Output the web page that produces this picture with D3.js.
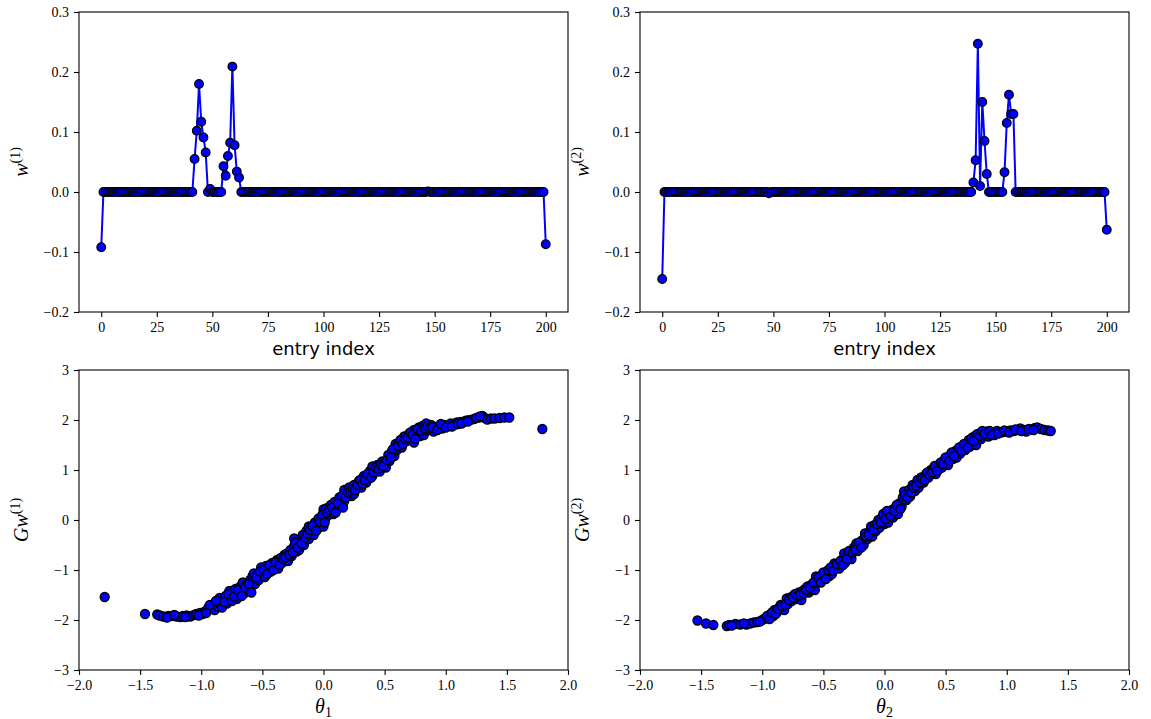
<!DOCTYPE html>
<html><head><meta charset="utf-8">
<script src="https://cdn.jsdelivr.net/npm/d3@7"></script>
<style>body{margin:0;background:#fff}svg{display:block}</style>
</head><body>
<svg id="chart" width="1151" height="719"></svg>
<script>
// ---------------- data ----------------
const w1 = [
-0.092,0,0,0,0,0,0,0,0,0,
0,0,0,0,0,0,0,0,0,0,
0,0,0,0,0,0,0,0,0,0,
0,0,0,0,0,0,0,0,0,0,
0,0,0.055,0.102,0.180,0.117,0.091,0.066,0,0.005,
0,0,0,0,0,0.043,0.027,0.060,0.082,0.209,
0.078,0.034,0.024,0,0,0,0,0,0,0,
0,0,0,0,0,0,0,0,0,0,
0,0,0,0,0,0,0,0,0,0,
0,0,0,0,0,0,0,0,0,0,
0,0,0,0,0,0,0,0,0,0,
0,0,0,0,0,0,0,0,0,0,
0,0,0,0,0,0,0,0,0,0,
0,0,0,0,0,0,0,0,0,0,
0,0,0,0,0,0,0,0.001,0,0,
0,0,0,0,0,0,0,0,0,0,
0,0,0,0,0,0,0,0,0,0,
0,0,0,0,0,0,0,0,0,0,
0,0,0,0,0,0,0,0,0,0,
0,0,0,0,0,0,0,0,0,0,
-0.087];

const w2 = [
-0.145,0,0,0,0,0,0,0,0,0,
0,0,0,0,0,0,0,0,0,0,
0,0,0,0,0,0,0,0,0,0,
0,0,0,0,0,0,0,0,0,0,
0,0,0,0,0,0,0,0,-0.002,0,
0,0,0,0,0,0,0,0,0,0,
0,0,0,0,0,0,0,0,0,0,
0,0,0,0,0,0,0,0,0,0,
0,0,0,0,0,0,0,0,0,0,
0,0,0,0,0,0,0,0,0,0,
0,0,0,0,0,0,0,0,0,0,
0,0,0,0,0,0,0,0,0,0,
0,0,0,0,0,0,0,0,0,0,
0,0,0,0,0,0,0,0,0,0,
0.016,0.053,0.247,0.010,0.150,0.085,0.030,0,0,0,
0,0,0,0,0.033,0.115,0.162,0.130,0.130,0,
0,0,0,0,0,0,0,0,0,0,
0,0,0,0,0,0,0,0,0,0,
0,0,0,0,0,0,0,0,0,0,
0,0,0,0,0,0,0,0,0,0,
-0.063];

// [theta_1, Gw^(1)]
const scatter1 = [
[-1.79,-1.54],[-1.46,-1.88],[-1.36,-1.89],[-1.34,-1.91],[-1.31,-1.93],[-1.27,-1.92],[-1.24,-1.92],[-1.20,-1.93],
[-1.17,-1.94],[-1.15,-1.92],[-1.12,-1.91],[-1.09,-1.93],[-1.06,-1.90],[-1.04,-1.88],[-1.01,-1.86],[-0.99,-1.88],
[-0.97,-1.83],[-0.95,-1.80],[-0.94,-1.75],[-0.92,-1.78],[-0.90,-1.72],[-0.89,-1.80],[-0.87,-1.66],[-0.86,-1.74],
[-0.85,-1.56],[-0.84,-1.70],[-0.82,-1.60],[-0.80,-1.52],[-0.79,-1.67],[-0.77,-1.42],[-0.76,-1.55],[-0.74,-1.48],
[-0.72,-1.38],[-0.71,-1.58],[-0.69,-1.44],[-0.68,-1.33],[-0.66,-1.25],[-0.65,-1.47],[-0.63,-1.30],[-0.62,-1.40],
[-0.60,-1.20],[-0.60,-1.37],[-0.58,-1.12],[-0.57,-1.07],[-0.56,-1.28],[-0.54,-1.10],[-0.53,-1.20],[-0.51,-0.95],
[-0.50,-1.08],[-0.48,-1.14],[-0.47,-0.92],[-0.45,-1.00],[-0.43,-1.03],[-0.42,-0.86],[-0.40,-0.93],[-0.38,-0.80],
[-0.37,-0.97],[-0.35,-0.76],[-0.34,-0.86],[-0.32,-0.70],[-0.30,-0.67],[-0.29,-0.82],[-0.27,-0.60],[-0.26,-0.72],
[-0.24,-0.37],[-0.24,-0.52],[-0.22,-0.63],[-0.20,-0.60],[-0.19,-0.42],[-0.17,-0.30],[-0.16,-0.50],[-0.14,-0.22],
[-0.12,-0.13],[-0.12,-0.38],[-0.10,-0.25],[-0.08,-0.30],[-0.07,-0.05],[-0.05,-0.18],[-0.04,0.03],[-0.02,-0.10],
[0.00,0.21],[0.00,-0.13],[0.02,0.23],[0.02,0.05],[0.04,0.10],[0.06,0.30],[0.08,0.12],[0.09,0.36],
[0.11,0.22],[0.13,0.45],[0.14,0.30],[0.17,0.60],[0.17,0.38],[0.19,0.50],[0.21,0.65],[0.23,0.48],
[0.25,0.70],[0.25,0.52],[0.27,0.62],[0.29,0.78],[0.31,0.65],[0.33,0.88],[0.35,0.75],[0.37,0.83],
[0.38,0.98],[0.40,1.07],[0.40,0.88],[0.42,1.00],[0.44,1.10],[0.46,0.97],[0.48,1.17],[0.50,1.15],
[0.51,1.05],[0.53,1.30],[0.54,1.18],[0.56,1.38],[0.58,1.28],[0.59,1.52],[0.60,1.40],[0.62,1.55],
[0.64,1.45],[0.66,1.67],[0.68,1.58],[0.70,1.72],[0.72,1.65],[0.74,1.80],[0.74,1.55],[0.76,1.75],
[0.78,1.85],[0.79,1.68],[0.81,1.88],[0.82,1.70],[0.84,1.93],[0.86,1.80],[0.88,1.90],[0.90,1.77],
[0.92,1.86],[0.95,1.88],[0.97,1.83],[0.99,1.90],[1.02,1.88],[1.04,1.93],[1.07,1.90],[1.09,1.95],
[1.12,1.96],[1.15,1.97],[1.17,1.99],[1.20,2.00],[1.23,2.02],[1.27,2.05],[1.30,2.08],[1.32,2.04],
[1.34,2.01],[1.37,2.03],[1.40,2.03],[1.44,2.04],[1.48,2.05],[1.52,2.05],[1.79,1.82]
];
const scatter1b = [
[-1.28,-1.95],[-1.22,-1.90],[-1.13,-1.94],[-1.02,-1.91],[-0.96,-1.86],[-0.93,-1.70],[-0.88,-1.62],[-0.83,-1.75],
[-0.81,-1.64],[-0.78,-1.48],[-0.75,-1.62],[-0.73,-1.53],[-0.70,-1.40],[-0.67,-1.52],[-0.64,-1.35],[-0.61,-1.28],
[-0.59,-1.45],[-0.55,-1.15],[-0.52,-1.03],[-0.49,-1.00],[-0.46,-1.08],[-0.44,-0.90],[-0.41,-1.00],[-0.39,-0.85],
[-0.36,-0.90],[-0.33,-0.78],[-0.31,-0.75],[-0.28,-0.70],[-0.25,-0.65],[-0.23,-0.45],[-0.21,-0.55],[-0.18,-0.47],
[-0.15,-0.35],[-0.13,-0.28],[-0.11,-0.20],[-0.09,-0.12],[-0.06,-0.22],[-0.03,-0.03],[-0.01,0.10],[0.01,-0.05],
[0.03,0.15],[0.05,0.20],[0.07,0.25],[0.10,0.15],[0.12,0.33],[0.15,0.48],[0.16,0.25],[0.18,0.45],
[0.20,0.55],[0.22,0.58],[0.24,0.62],[0.26,0.60],[0.28,0.70],[0.30,0.80],[0.32,0.72],[0.34,0.80],
[0.36,0.92],[0.39,0.85],[0.41,0.95],[0.43,1.05],[0.45,1.02],[0.47,1.10],[0.49,1.08],[0.52,1.20],
[0.55,1.25],[0.57,1.42],[0.61,1.48],[0.63,1.60],[0.65,1.52],[0.67,1.62],[0.69,1.65],[0.71,1.75],
[0.73,1.70],[0.75,1.62],[0.77,1.82],[0.80,1.78],[0.83,1.83],[0.85,1.88],[0.87,1.84],[0.89,1.85],
[0.93,1.80],[0.96,1.92],[1.00,1.85],[1.05,1.87],[1.10,1.92],[1.13,1.93],[1.18,1.97],[1.25,2.04],[1.28,2.07]
];

// [theta_2, Gw^(2)]
const scatter2 = [
[-1.53,-2.01],[-1.46,-2.07],[-1.40,-2.10],[-1.29,-2.12],[-1.27,-2.10],[-1.22,-2.08],[-1.18,-2.09],[-1.13,-2.09],
[-1.10,-2.07],[-1.07,-2.05],[-1.04,-2.04],[-1.00,-2.00],[-0.98,-1.97],[-0.95,-1.95],[-0.93,-1.88],[-0.91,-1.92],
[-0.90,-1.80],[-0.88,-1.85],[-0.86,-1.75],[-0.85,-1.70],[-0.83,-1.78],[-0.82,-1.80],[-0.80,-1.57],[-0.79,-1.68],
[-0.77,-1.55],[-0.76,-1.62],[-0.74,-1.50],[-0.72,-1.58],[-0.70,-1.45],[-0.68,-1.60],[-0.67,-1.42],[-0.65,-1.38],
[-0.63,-1.33],[-0.62,-1.45],[-0.60,-1.30],[-0.59,-1.40],[-0.57,-1.40],[-0.56,-1.13],[-0.55,-1.25],[-0.53,-1.20],
[-0.51,-1.10],[-0.49,-1.13],[-0.47,-1.05],[-0.45,-1.12],[-0.43,-1.08],[-0.41,-0.87],[-0.40,-0.95],[-0.37,-0.97],
[-0.35,-0.80],[-0.33,-0.67],[-0.32,-0.85],[-0.30,-0.70],[-0.28,-0.68],[-0.27,-0.78],[-0.25,-0.55],[-0.23,-0.47],
[-0.22,-0.62],[-0.20,-0.52],[-0.18,-0.40],[-0.17,-0.50],[-0.16,-0.27],[-0.14,-0.38],[-0.12,-0.22],[-0.11,-0.13],
[-0.10,-0.33],[-0.08,-0.10],[-0.07,-0.22],[-0.05,0.00],[-0.04,-0.15],[-0.02,0.05],[0.00,0.08],[0.00,-0.08],
[0.03,-0.05],[0.04,0.15],[0.06,0.20],[0.07,0.05],[0.09,0.25],[0.11,0.12],[0.12,0.33],[0.14,0.27],
[0.15,0.45],[0.16,0.57],[0.18,0.40],[0.20,0.60],[0.21,0.47],[0.23,0.70],[0.25,0.58],[0.27,0.80],
[0.28,0.65],[0.30,0.85],[0.32,0.75],[0.34,0.92],[0.36,0.85],[0.38,1.00],[0.40,1.03],[0.42,0.92],
[0.44,1.00],[0.45,1.12],[0.47,1.05],[0.49,1.20],[0.51,1.20],[0.52,1.10],[0.54,1.30],[0.56,1.22],
[0.58,1.38],[0.59,1.25],[0.60,1.40],[0.62,1.33],[0.64,1.48],[0.66,1.40],[0.67,1.53],[0.69,1.60],
[0.70,1.47],[0.72,1.65],[0.74,1.68],[0.75,1.50],[0.77,1.70],[0.79,1.62],[0.81,1.75],[0.84,1.77],
[0.85,1.67],[0.87,1.75],[0.90,1.70],[0.92,1.78],[0.95,1.75],[0.97,1.76],[1.00,1.77],[1.03,1.79],
[1.06,1.78],[1.09,1.80],[1.11,1.83],[1.14,1.80],[1.16,1.77],[1.20,1.81],[1.23,1.84],[1.25,1.85],
[1.28,1.82],[1.31,1.80],[1.34,1.79],[1.36,1.78]
];
const scatter2b = [
[-1.25,-2.11],[-1.15,-2.07],[-1.02,-2.03],[-0.96,-1.92],[-0.94,-1.98],[-0.92,-1.85],[-0.89,-1.88],[-0.87,-1.78],
[-0.84,-1.72],[-0.81,-1.70],[-0.78,-1.60],[-0.75,-1.55],[-0.73,-1.48],[-0.71,-1.52],[-0.69,-1.50],[-0.66,-1.47],
[-0.64,-1.40],[-0.61,-1.35],[-0.58,-1.25],[-0.54,-1.15],[-0.52,-1.25],[-0.50,-1.05],[-0.48,-1.18],[-0.46,-1.00],
[-0.44,-0.95],[-0.42,-1.02],[-0.39,-0.88],[-0.36,-0.82],[-0.34,-0.90],[-0.31,-0.78],[-0.29,-0.62],[-0.26,-0.65],
[-0.24,-0.60],[-0.21,-0.45],[-0.19,-0.55],[-0.15,-0.33],[-0.13,-0.30],[-0.09,-0.20],[-0.06,-0.08],[-0.03,-0.05],
[-0.01,0.12],[0.01,0.02],[0.02,0.18],[0.05,0.08],[0.08,0.18],[0.10,0.30],[0.13,0.22],[0.17,0.50],
[0.19,0.45],[0.22,0.55],[0.24,0.65],[0.26,0.68],[0.29,0.75],[0.31,0.82],[0.33,0.80],[0.35,0.95],
[0.37,0.90],[0.39,0.95],[0.41,1.08],[0.43,0.98],[0.46,1.15],[0.48,1.12],[0.50,1.25],[0.53,1.18],
[0.55,1.35],[0.57,1.28],[0.61,1.45],[0.63,1.38],[0.65,1.52],[0.68,1.45],[0.71,1.62],[0.73,1.58],
[0.76,1.72],[0.78,1.68],[0.80,1.78],[0.82,1.72],[0.86,1.78],[0.88,1.70],[0.93,1.73],[0.98,1.79],
[1.02,1.75],[1.07,1.81],[1.12,1.78],[1.18,1.82],[1.22,1.80]
];

const entryTicks = [0,25,50,75,100,125,150,175,200];
const wTicks = [-0.2,-0.1,0.0,0.1,0.2,0.3];
const thetaTicks = [-2.0,-1.5,-1.0,-0.5,0.0,0.5,1.0,1.5,2.0];
const gwTicks = [-3,-2,-1,0,1,2,3];

// ---------------- drawing ----------------
const svg = d3.select("#chart");
const SERIF = "'Liberation Serif','DejaVu Serif',serif";
const SANS = "'DejaVu Sans',sans-serif";
const BLUE = "#0000ff";

function makePanel(cfg) {
  const g = svg.append("g").attr("transform", `translate(${cfg.left},${cfg.top})`);
  const x = d3.scaleLinear().domain(cfg.xDomain).range([0, cfg.width]);
  const y = d3.scaleLinear().domain(cfg.yDomain).range([cfg.height, 0]);
  return {g, x, y, cfg};
}

function finishPanel(p) {
  const {g, x, y, cfg} = p;
  const ax = g.append("g").attr("transform", `translate(0,${cfg.height})`)
    .call(d3.axisBottom(x).tickValues(cfg.xTicks).tickFormat(cfg.xFmt).tickSize(5).tickPadding(5));
  const ay = g.append("g")
    .call(d3.axisLeft(y).tickValues(cfg.yTicks).tickFormat(cfg.yFmt).tickSize(5).tickPadding(5));
  [ax, ay].forEach(a => {
    a.select(".domain").remove();
    a.selectAll(".tick line").attr("stroke", "#000").attr("stroke-width", 1.1);
    a.selectAll(".tick text").attr("font-family", SERIF).attr("font-size", 14).attr("fill", "#000");
  });
  g.append("rect").attr("x", 0).attr("y", 0).attr("width", cfg.width).attr("height", cfg.height)
    .attr("fill", "none").attr("stroke", "#000").attr("stroke-width", 1.1);
}

function markers(p, data, fx, fy, r) {
  p.g.append("g").selectAll("circle").data(data).join("circle")
    .attr("cx", fx).attr("cy", fy).attr("r", r)
    .attr("fill", BLUE).attr("stroke", "#000").attr("stroke-width", 1.3);
}

function mathText(parent, x, y, rotate, base, sup, sub, size) {
  const t = parent.append("text")
    .attr("transform", `translate(${x},${y})` + (rotate ? " rotate(-90)" : ""))
    .attr("text-anchor", "middle").attr("font-family", SERIF).attr("font-size", size).attr("fill", "#000");
  t.append("tspan").attr("font-style", "italic").text(base);
  if (sup) t.append("tspan").attr("font-size", size * 0.7).attr("dy", -size * 0.42).text(sup);
  if (sub) t.append("tspan").attr("font-size", size * 0.7).attr("dy", size * 0.22).text(sub);
  return t;
}

const fmt1 = d3.format(".1f");
const fmtInt = d3.format("d");
const W = 489, H = 300;

// top panels
[[w1, 79, "(1)"], [w2, 640, "(2)"]].forEach(([w, left, lab]) => {
  const p = makePanel({left, top: 12, width: W, height: H, xDomain: [-10, 210], yDomain: [-0.2, 0.3],
    xTicks: entryTicks, yTicks: wTicks, xFmt: fmtInt, yFmt: fmt1});
  const line = d3.line().x((d, i) => p.x(i)).y(d => p.y(d));
  p.g.append("path").datum(w).attr("d", line).attr("fill", "none").attr("stroke", BLUE).attr("stroke-width", 2);
  markers(p, w, (d, i) => p.x(i), d => p.y(d), 4.3);
  finishPanel(p);
  svg.append("text").attr("x", left + W / 2).attr("y", 355).attr("text-anchor", "middle")
    .attr("font-family", SANS).attr("font-size", 18).attr("fill", "#000").text("entry index");
  mathText(svg, left - 51, 12 + H / 2, true, "w", lab, null, 20);
});

// bottom panels
[[scatter1.concat(scatter1b), 79, "(1)", "1"], [scatter2.concat(scatter2b), 640, "(2)", "2"]].forEach(([data, left, lab, sub]) => {
  const p = makePanel({left, top: 370, width: W, height: H, xDomain: [-2, 2], yDomain: [-3, 3],
    xTicks: thetaTicks, yTicks: gwTicks, xFmt: fmt1, yFmt: fmtInt});
  markers(p, data, d => p.x(d[0]), d => p.y(d[1]), 4.5);
  finishPanel(p);
  mathText(svg, left + W / 2, 713, false, "θ", null, sub, 20);
  mathText(svg, left - 51, 370 + H / 2, true, "Gw", lab, null, 20);
});
</script>
</body></html>
